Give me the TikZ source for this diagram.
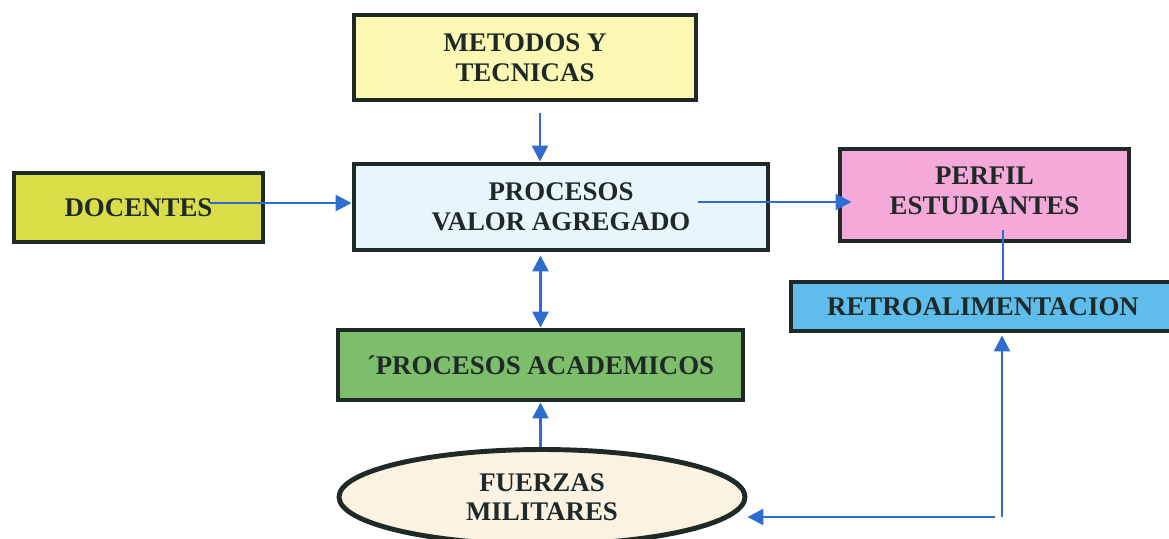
\documentclass[tikz,border=0pt]{standalone}
\usepackage{fontspec}
\setmainfont{Liberation Serif}
\usepackage{xcolor}
\definecolor{edge}{HTML}{1F2A27}
\definecolor{ink}{HTML}{1F2A28}
\definecolor{link}{HTML}{2E6CD1}
\definecolor{metfill}{HTML}{FBF8B4}
\definecolor{valfill}{HTML}{E8F5FB}
\definecolor{docfill}{HTML}{D9DE48}
\definecolor{perfill}{HTML}{F4A9D8}
\definecolor{retfill}{HTML}{5EBDEB}
\definecolor{acafill}{HTML}{7DBE6B}
\definecolor{fuefill}{HTML}{FBF3E2}
\usetikzlibrary{calc}
\usetikzlibrary{arrows.meta,shapes.geometric}

\begin{document}
\begin{tikzpicture}[
  box/.style={draw=edge, line width=2.8pt, rectangle, align=center, inner sep=0pt,
    text=ink, font=\fontsize{15.3}{16.8}\selectfont\bfseries},
  arrow/.style={draw=link, line width=1.5pt, -{Triangle[length=0.32cm,width=0.32cm]}},
  twoway/.style={draw=link, line width=1.5pt, {Triangle[length=0.32cm,width=0.32cm]}-{Triangle[length=0.32cm,width=0.32cm]}},
  plain/.style={draw=link, line width=1.5pt}
]
\clip (0,0) rectangle (23.38,-10.76);
\fill[white] (0,0) rectangle (23.38,-10.76);

% BOXES
\node[box, fill=metfill, minimum width=6.84cm, minimum height=1.7cm] (met) at (10.5,-1.15) {METODOS Y\\TECNICAS};
\node[box, fill=valfill, minimum width=8.28cm, minimum height=1.72cm] (val) at (11.22,-4.14) {PROCESOS\\VALOR AGREGADO};
\node[box, fill=docfill, minimum width=4.98cm, minimum height=1.38cm] (doc) at (2.77,-4.15) {DOCENTES};
\node[box, fill=perfill, minimum width=5.78cm, minimum height=1.84cm] (per) at (19.69,-3.9) {PERFIL\\ESTUDIANTES\\[-12pt]};
\node[box, fill=retfill, minimum width=7.68cm, minimum height=0.98cm] (ret) at (19.66,-6.13) {RETROALIMENTACION};
\node[box, fill=acafill, minimum width=8.1cm, minimum height=1.4cm] (aca) at (10.81,-7.3) {´PROCESOS ACADEMICOS};
\node[box, ellipse, fill=fuefill, minimum width=8.12cm, minimum height=1.9cm] (fue) at (10.84,-9.94) {FUERZAS\\MILITARES};

% CONNECTORS
\coordinate (metout) at ([xshift=0.3cm,yshift=-0.22cm]met.south);
\draw[arrow] (metout) -- (metout |- val.north);
\coordinate (docout) at ([xshift=1.43cm,yshift=0.09cm]doc.center);
\draw[arrow] (docout) -- (docout -| val.west);
\coordinate (valout) at ([xshift=2.74cm,yshift=0.1cm]val.center);
\draw[arrow] (valout) -- ([xshift=0.28cm]valout -| per.west);
\draw[twoway, shorten >=0.06cm] (aca.north) -- (aca.north |- val.south);
\draw[arrow] (aca.south |- fue.north) -- (aca.south);
\coordinate (perout) at ([xshift=0.37cm,yshift=-0.7cm]per.center);
\draw[plain] (perout) -- (perout |- ret.north);

% FEEDBACK LOOP
\coordinate (turn) at (20.04,-10.34);
\draw[arrow, shorten >=0.04cm] (turn) -- (turn |- ret.south);
\draw[arrow] ([xshift=-0.14cm]turn) -- (fue.east |- turn);

\end{tikzpicture}
\end{document}
